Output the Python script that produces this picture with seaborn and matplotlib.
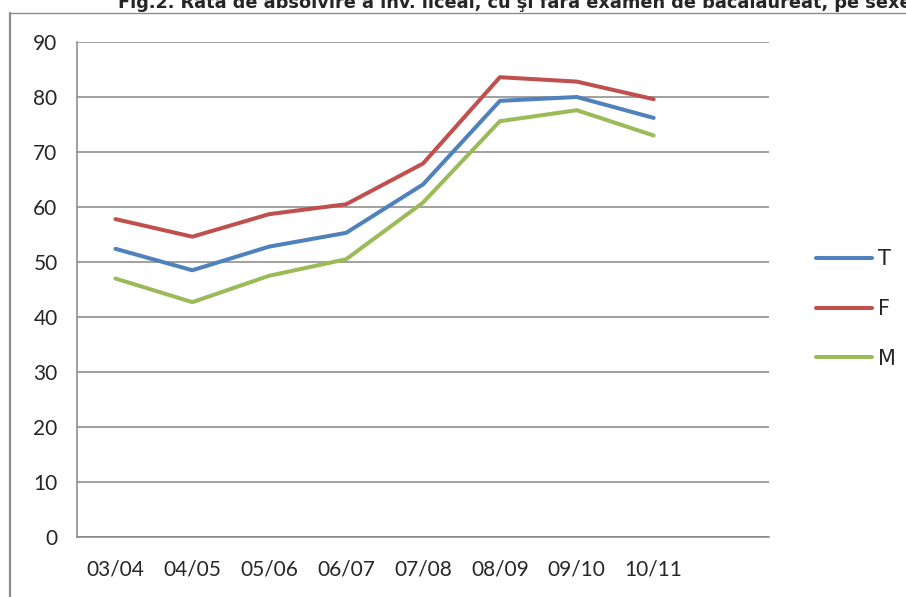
import pandas as pd
import seaborn as sns
import matplotlib.pyplot as plt
from matplotlib.lines import Line2D

# Rata de absolvire (%) pe ani scolari
years = ['03/04', '04/05', '05/06', '06/07', '07/08', '08/09', '09/10', '10/11']
t_vals = [52.4, 48.5, 52.8, 55.3, 64.1, 79.3, 80.0, 76.2]
f_vals = [57.8, 54.6, 58.7, 60.5, 67.9, 83.6, 82.8, 79.6]
m_vals = [47.0, 42.7, 47.5, 50.5, 60.8, 75.6, 77.6, 73.0]
series = ['T', 'F', 'M']
colors = {'T': '#4F81BD', 'F': '#C0504D', 'M': '#9BBB59'}

df = pd.DataFrame({
    'An': years * 3,
    'Rata': t_vals + f_vals + m_vals,
    'Serie': ['T'] * 8 + ['F'] * 8 + ['M'] * 8,
})

sns.set_style('white')
plt.rcParams['font.family'] = ['DejaVu Sans']

fig = plt.figure(figsize=(9.06, 5.97), dpi=100)
ax = fig.add_axes([77 / 906, 1 - 537 / 597, (769 - 77) / 906, (537 - 42) / 597])

sns.lineplot(data=df, x='An', y='Rata', hue='Serie', hue_order=series,
             palette=colors, linewidth=2.9, ax=ax, sort=False)

grid_c = '#868686'
ax.set_ylim(0, 90)
ax.set_xlim(-0.5, 8.5)
ax.set_yticks(range(0, 91, 10))
ax.yaxis.grid(True, color=grid_c, linewidth=1.1)
ax.set_axisbelow(True)

# tick marks on category borders, labels at category centres
ax.set_xticks([i - 0.5 for i in range(10)])
ax.set_xticklabels([])
ax.set_xticks(range(len(years)), minor=True)
ax.set_xticklabels(years, minor=True, family='Lato', fontsize=15)
ax.tick_params(axis='x', which='minor', length=0, pad=16)
ax.tick_params(axis='x', which='major', length=7, color=grid_c, width=1.1, direction='out')
ax.tick_params(axis='y', length=6, color=grid_c, width=1.1, direction='out', pad=8)
for lab in ax.get_yticklabels():
    lab.set_family('Lato')
    lab.set_fontsize(15)

for side in ['top', 'right']:
    ax.spines[side].set_visible(False)
for side in ['left', 'bottom']:
    ax.spines[side].set_color(grid_c)
    ax.spines[side].set_linewidth(1.1)
ax.set_xlabel('')
ax.set_ylabel('')

handles, labels = ax.get_legend_handles_labels()
ax.legend_.remove()
fig.legend(handles, labels, loc='center left', bbox_to_anchor=(797 / 906, 1 - 309 / 597),
           frameon=False, fontsize=15, handlelength=2.7, handletextpad=0.3,
           labelspacing=1.42)

# chart frame (only left and top edges visible)
fig.add_artist(Line2D([9.5 / 906, 9.5 / 906], [0, 1 - 12.5 / 597], color='#8C8C8C',
                      linewidth=1.6, transform=fig.transFigure))
fig.add_artist(Line2D([9.5 / 906, 1], [1 - 12.5 / 597, 1 - 12.5 / 597], color='#8C8C8C',
                      linewidth=1.0, transform=fig.transFigure))

fig.text(118 / 906, 1 - 8 / 597,
         'Fig.2. Rata de absolvire a înv. liceal, cu şi fără examen de bacalaureat, pe sexe',
         ha='left', va='baseline', fontsize=12.8, fontweight='bold')

fig.savefig('out.png', dpi=100)
